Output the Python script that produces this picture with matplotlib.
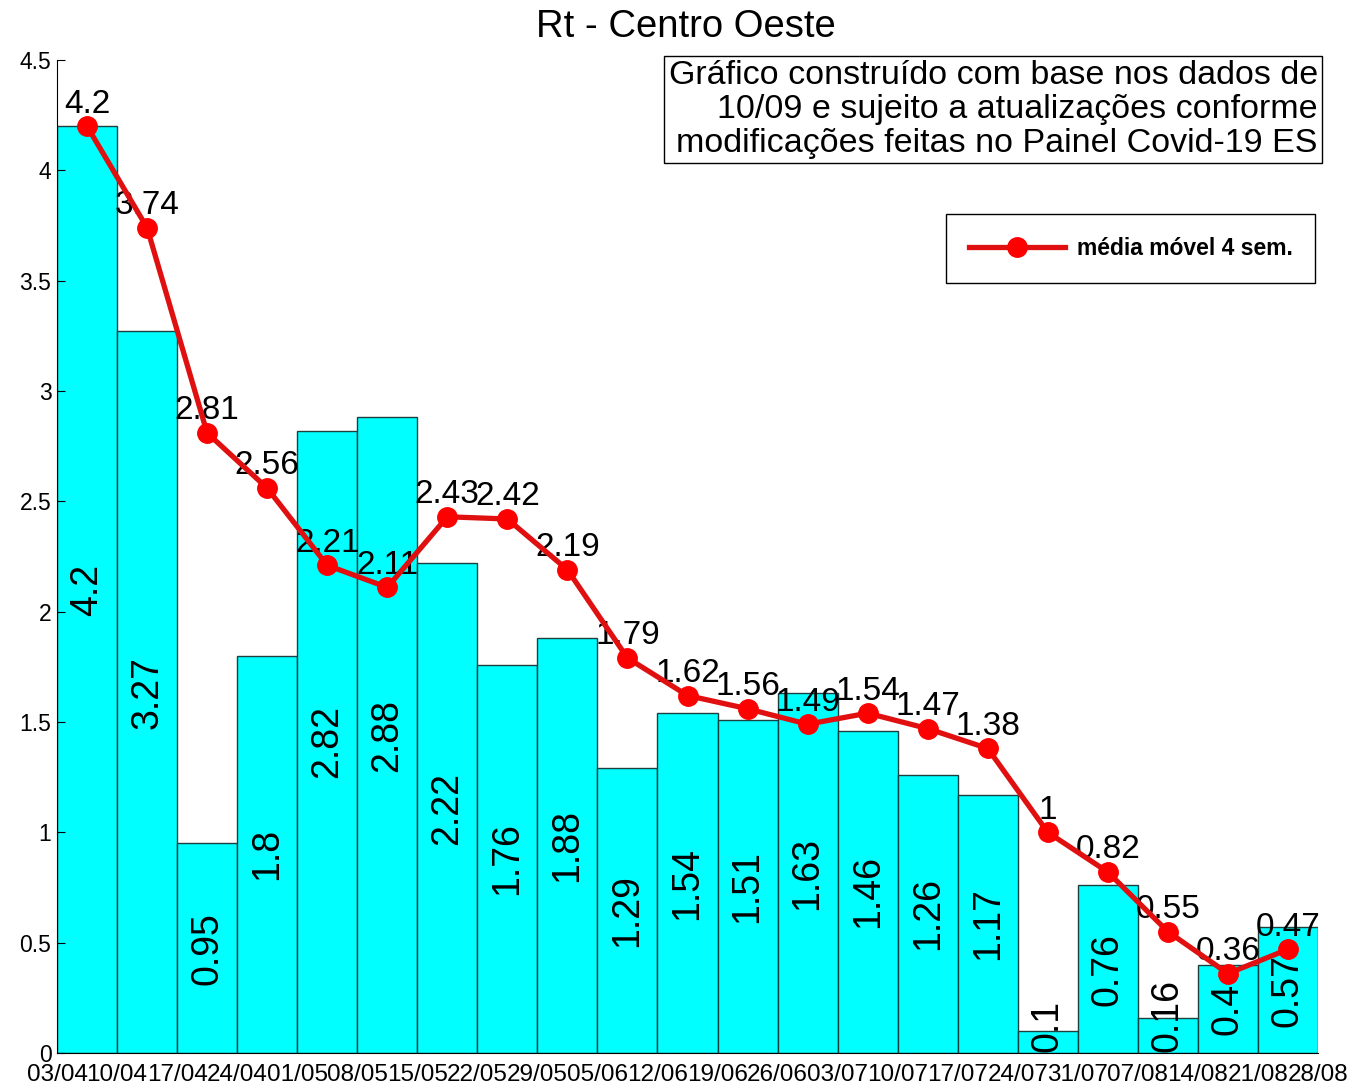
import numpy as np
import matplotlib
matplotlib.use("Agg")
import matplotlib.pyplot as plt

plt.rcParams['font.family'] = ['Liberation Sans', 'DejaVu Sans']

# dados
datas = ["03/04", "10/04", "17/04", "24/04", "01/05", "08/05", "15/05", "22/05",
         "29/05", "05/06", "12/06", "19/06", "26/06", "03/07", "10/07", "17/07",
         "24/07", "31/07", "07/08", "14/08", "21/08", "28/08"]
rt = [4.2, 3.27, 0.95, 1.8, 2.82, 2.88, 2.22, 1.76, 1.88, 1.29, 1.54,
      1.51, 1.63, 1.46, 1.26, 1.17, 0.1, 0.76, 0.16, 0.4, 0.57]
media_movel = [4.2, 3.74, 2.81, 2.56, 2.21, 2.11, 2.43, 2.42, 2.19, 1.79, 1.62,
               1.56, 1.49, 1.54, 1.47, 1.38, 1, 0.82, 0.55, 0.36, 0.47]

fig = plt.figure(figsize=(13.53, 10.90), dpi=100)
ax = fig.add_axes([57/1353, 37/1090, 1261/1353, 993/1090])

x = np.arange(len(rt)) + 0.5
ax.bar(x, rt, width=1.0, color="#00FFFF", edgecolor="#1f3f3f", linewidth=1.0, zorder=1)

for xi, v in zip(x, rt):
    if v < 0.3:
        ax.text(xi, 0.005, f"{v:g}", rotation=90, ha="center", va="bottom",
                fontsize=27, zorder=2)
    else:
        ax.text(xi, v / 2, f"{v:g}", rotation=90, ha="center", va="center",
                fontsize=27, zorder=2)

for xi, v in zip(x, media_movel):
    ax.text(xi, v + 0.03, f"{v:g}", ha="center", va="bottom", fontsize=24, zorder=3)

ax.plot(x, media_movel, color="#E01010", linewidth=3.8, marker="o",
        markersize=14, markerfacecolor="#FF0000", markeredgecolor="#FF0000",
        label="média móvel 4 sem.", zorder=4)

ax.set_xlim(0, len(rt))
ax.set_ylim(0, 4.5)
ax.set_xticks(np.arange(len(datas)))
ax.set_xticklabels(datas, fontsize=17.5)
ax.set_yticks(np.arange(0, 4.51, 0.5))
ax.set_yticklabels([f"{t:g}" for t in np.arange(0, 4.51, 0.5)], fontsize=16.5)
ax.tick_params(direction="in", length=6, pad=4)
ax.tick_params(axis="x", length=0, pad=8)
ax.spines["top"].set_visible(False)
ax.spines["right"].set_visible(False)

leg = ax.legend(loc="upper right", bbox_to_anchor=(0.998, 0.845), borderaxespad=0,
                fancybox=False, edgecolor="black", framealpha=1,
                prop={"weight": "bold", "size": 16.5}, handlelength=4.2,
                borderpad=1.0, handletextpad=0.5)
leg.get_frame().set_linewidth(1.0)

fig.text(0.507, 0.975, "Rt - Centro Oeste", ha="center", va="center", fontsize=27.5)
fig.text(0.974, 0.945,
         "Gráfico construído com base nos dados de\n"
         "10/09 e sujeito a atualizações conforme\n"
         "modificações feitas no Painel Covid-19 ES",
         ha="right", va="top", fontsize=24.5, linespacing=1.12,
         bbox=dict(boxstyle="square,pad=0.12", facecolor="white",
                   edgecolor="black", linewidth=1.0))

fig.savefig("out.png", dpi=100)
